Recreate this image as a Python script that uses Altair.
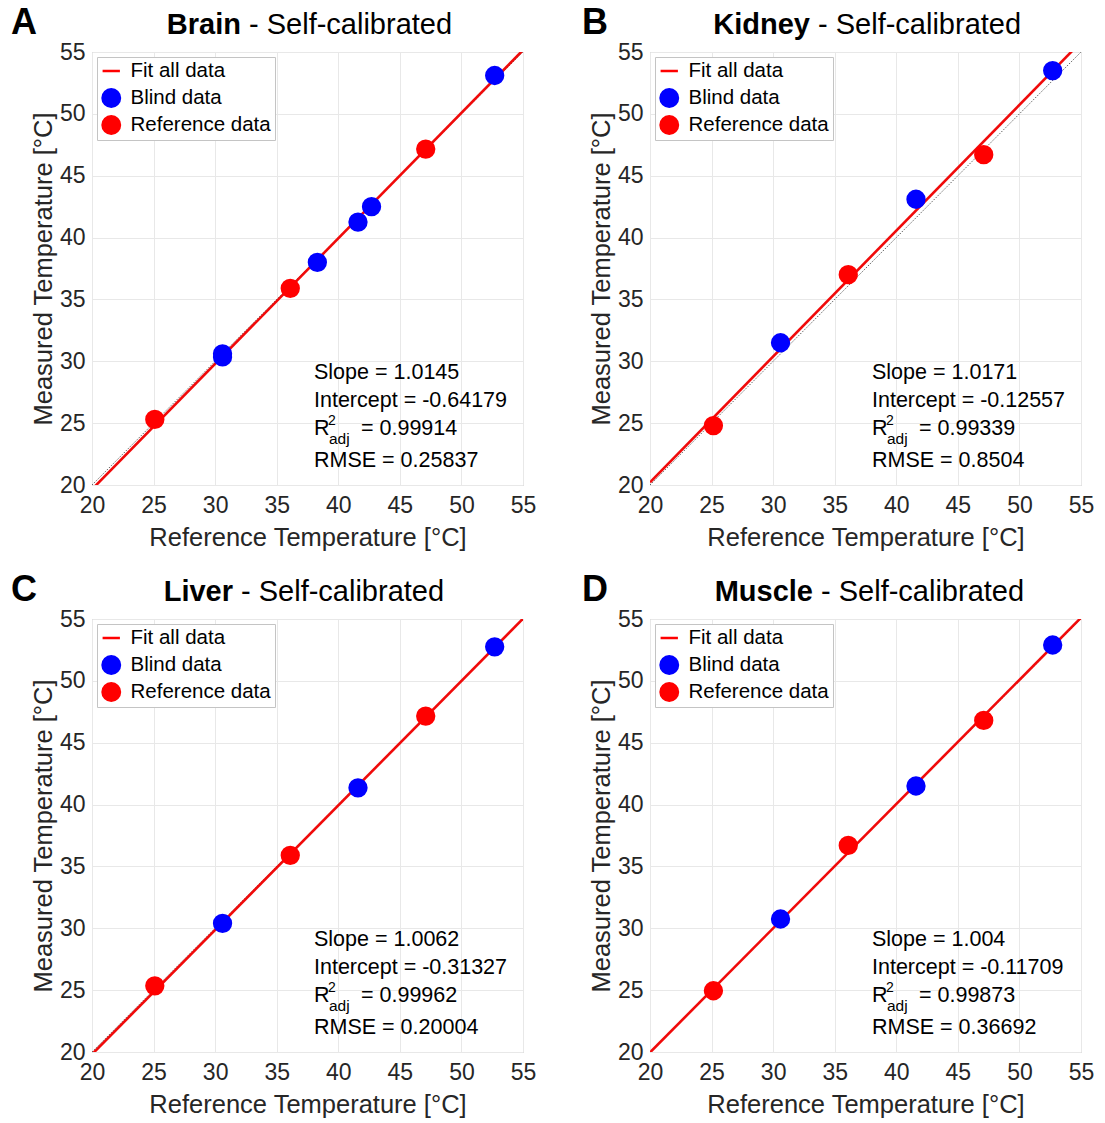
import altair as alt
import pandas as pd

FONT = "Liberation Sans"

# ---------------- data ----------------
organs = ["Brain", "Kidney", "Liver", "Muscle"]
letters = ["A", "B", "C", "D"]
series_domain = ["Fit all data", "Blind data", "Reference data"]
series_colors = ["#ff0000", "#0000ff", "#ff0000"]
series_shapes = ["stroke", "circle", "circle"]

brain_ref = [25.1, 30.6, 30.6, 36.1, 38.3, 41.6, 42.7, 47.1, 52.7]
brain_meas = [25.3, 30.35, 30.6, 35.9, 38.0, 41.25, 42.5, 47.15, 53.1]
brain_type = ["Reference data", "Blind data", "Blind data", "Reference data", "Blind data",
              "Blind data", "Blind data", "Reference data", "Blind data"]

kidney_ref = [25.15, 30.6, 36.1, 41.6, 47.1, 52.7]
kidney_meas = [24.8, 31.5, 37.0, 43.1, 46.7, 53.5]

liver_ref = [25.1, 30.6, 36.1, 41.6, 47.1, 52.7]
liver_meas = [25.35, 30.4, 35.9, 41.35, 47.15, 52.75]

muscle_ref = [25.15, 30.6, 36.1, 41.6, 47.1, 52.7]
muscle_meas = [24.95, 30.75, 36.7, 41.5, 46.8, 52.9]

six_type = ["Reference data", "Blind data", "Reference data", "Blind data", "Reference data", "Blind data"]

refs = [brain_ref, kidney_ref, liver_ref, muscle_ref]
meas = [brain_meas, kidney_meas, liver_meas, muscle_meas]
types = [brain_type, six_type, six_type, six_type]

slopes = ["1.0145", "1.0171", "1.0062", "1.004"]
intercepts = ["-0.64179", "-0.12557", "-0.31327", "-0.11709"]
r2adj = ["0.99914", "0.99339", "0.99962", "0.99873"]
rmses = ["0.25837", "0.8504", "0.20004", "0.36692"]

tick_vals = [20, 25, 30, 35, 40, 45, 50, 55]
axis_range = [20, 55]

# ---------------- layout constants ----------------
W, H = 431, 433
title_split = [149, 160, 141, 163]
letter_x = [-81, -68, -81, -68]


def text_layer(s, x, y, size, weight="normal", align="left", color="#000000"):
    return alt.Chart(pd.DataFrame({"t": [s]})).mark_text(
        align=align, baseline="alphabetic", font=FONT, fontSize=size,
        fontWeight=weight, color=color
    ).encode(x=alt.value(x), y=alt.value(y), text="t:N")


def axis_common(title):
    return dict(
        values=tick_vals, title=title, grid=True, gridColor="#e8e8e8", gridWidth=1,
        domain=False, ticks=False, labelFont=FONT, labelFontSize=23, labelColor="#262626",
        titleFont=FONT, titleFontSize=25.5, titleFontWeight="normal", titleColor="#262626",
        labelFlush=False, labelOverlap=False,
    )


def panel(i):
    pts = pd.DataFrame({"ref": refs[i], "meas": meas[i], "series": types[i]})
    s = float(slopes[i])
    b = float(intercepts[i])
    fit = pd.DataFrame({"ref": axis_range, "meas": [s * v + b for v in axis_range]})
    ident = pd.DataFrame({"ref": axis_range, "meas": axis_range})

    x = alt.X("ref:Q", scale=alt.Scale(domain=axis_range, nice=False, zero=False),
              axis=alt.Axis(labelPadding=9, titlePadding=8, **axis_common("Reference Temperature [°C]")))
    y = alt.Y("meas:Q", scale=alt.Scale(domain=axis_range, nice=False, zero=False),
              axis=alt.Axis(labelPadding=7, titlePadding=3, **axis_common("Measured Temperature [°C]")))

    ident_layer = alt.Chart(ident).mark_line(
        color="#606060", strokeWidth=1, strokeDash=[1.5, 1.5], clip=True
    ).encode(x=x, y=y)
    fit_layer = alt.Chart(fit).mark_line(
        color="#f00a0a", strokeWidth=2.6, clip=True
    ).encode(x=x, y=y)

    legend = alt.Legend(
        title=None, orient="top-left", offset=5, padding=4,
        strokeColor="#c4c4c4", fillColor="#ffffff", cornerRadius=0,
        labelFont=FONT, labelFontSize=20.5, labelColor="#000000", labelOffset=9,
        symbolSize=300, symbolStrokeWidth=2.6, rowPadding=6, clipHeight=20,
    )
    pts_layer = alt.Chart(pts).mark_point(filled=False, size=280, strokeWidth=2.6, opacity=1).encode(
        x=x, y=y,
        color=alt.Color("series:N", scale=alt.Scale(domain=series_domain, range=series_colors),
                        legend=legend),
        fill=alt.Fill("series:N", scale=alt.Scale(domain=series_domain, range=series_colors),
                      legend=legend),
        shape=alt.Shape("series:N", scale=alt.Scale(domain=series_domain, range=series_shapes),
                        legend=legend),
    )

    ann = [
        text_layer("Slope = " + slopes[i], 222, 327, 21.5),
        text_layer("Intercept = " + intercepts[i], 222, 355, 21.5),
        text_layer("R", 222, 383, 21.5),
        text_layer("2", 236, 373, 14),
        text_layer("adj", 237, 392, 15.5),
        text_layer("= " + r2adj[i], 269, 383, 21.5),
        text_layer("RMSE = " + rmses[i], 222, 415, 21.5),
        text_layer(organs[i], title_split[i], -18, 29, weight="bold", align="right"),
        text_layer("- Self-calibrated", title_split[i] + 8, -18, 29),
        text_layer(letters[i], letter_x[i], -18, 36, weight="bold"),
    ]

    return alt.layer(ident_layer, fit_layer, pts_layer, *ann).properties(width=W, height=H)


chart = alt.concat(
    *[panel(i) for i in range(4)], columns=2, spacing={"row": 20, "column": 44}
).resolve_scale(
    color="independent", shape="independent", fill="independent"
).properties(
    padding={"left": 10, "top": 4, "right": 5, "bottom": 5}, background="#ffffff"
).configure_view(
    stroke="#b3b3b3", strokeWidth=1
)

chart.save("out.html", embed_options={"renderer": "svg", "actions": False})
